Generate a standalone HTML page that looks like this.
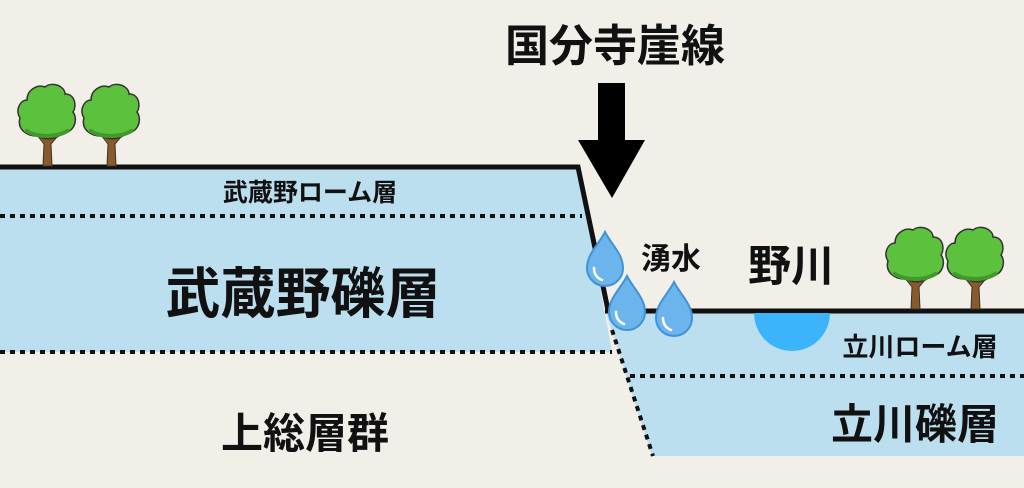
<!DOCTYPE html>
<html><head><meta charset="utf-8"><style>
body{margin:0;background:#f2efe9;}
svg text{font-family:"Liberation Sans","Noto Sans CJK JP",sans-serif;font-weight:bold;fill:#111;}
</style></head><body>
<svg width="1024" height="483" viewBox="0 0 1024 483" xmlns="http://www.w3.org/2000/svg">
<defs>
<g id="tree">
<path d="M-4,22 L-3,0 L-14,-14 L-11,-15 L-2,-5 L0,-16 L3,-16 L3,-5 L12,-15 L15,-13 L4,0 L5,22 Z" fill="#8a5a2b" stroke="#333" stroke-width="1"/>
<path d="M-10,-8 C-22,-8 -30,-16 -27,-26 C-32,-34 -27,-44 -20,-44 C-20,-54 -10,-60 -2,-57 C5,-63 18,-58 18,-50 C28,-50 30,-38 26,-32 C32,-24 26,-10 16,-12 C10,-4 0,-4 -10,-8 Z" fill="#5cc23d" stroke="#333" stroke-width="1.5"/>
<path d="M-22,-14 C-10,-6 10,-6 22,-14" fill="none" stroke="#3f9a2a" stroke-width="4"/>
</g>
<g id="drop">
<path d="M0,-30 C6,-18 18,-8 18,6 C18,16 10,24 0,24 C-10,24 -18,16 -18,6 C-18,-8 -6,-18 0,-30 Z" fill="#6bb4ec" stroke="#3f93d8" stroke-width="2"/>
<path d="M-11,6 C-11,12 -8,16 -3,18" fill="none" stroke="#fff" stroke-width="2.5" stroke-linecap="round"/>
</g>
</defs>
<polygon points="0,167 578,167 612,352 0,352" fill="#bcdff0"/>
<polygon points="605,310 1024,310 1024,456 652,456" fill="#bcdff0"/>
<line x1="0" y1="216" x2="582" y2="216" stroke="#111" stroke-width="4" stroke-dasharray="5,5"/>
<line x1="0" y1="352" x2="612" y2="352" stroke="#111" stroke-width="4" stroke-dasharray="5,5"/>
<line x1="630" y1="376" x2="1024" y2="376" stroke="#111" stroke-width="4" stroke-dasharray="5,5"/>
<line x1="612" y1="330" x2="653" y2="456" stroke="#111" stroke-width="4" stroke-dasharray="5,5"/>
<path d="M0,167 L578,167 L608,310" fill="none" stroke="#111" stroke-width="5"/>
<line x1="605" y1="311" x2="1024" y2="311" stroke="#111" stroke-width="5"/>
<path d="M754,313 A38,38 0 0 0 830,313 Z" fill="#3bb4fb"/>
<use href="#tree" x="47" y="144"/>
<use href="#tree" x="111" y="144"/>
<use href="#tree" x="915" y="287"/>
<use href="#tree" x="975" y="287"/>
<use href="#drop" x="605" y="262"/>
<use href="#drop" x="627" y="306"/>
<use href="#drop" x="674" y="312"/>
<polygon points="598,83 625,83 625,140 645,140 612,198 578,140 598,140" fill="#000"/>
<text x="615" y="61" font-size="44" text-anchor="middle">国分寺崖線</text>
<text x="310" y="201" font-size="25" text-anchor="middle">武蔵野ローム層</text>
<text x="303" y="313" font-size="55" text-anchor="middle">武蔵野礫層</text>
<text x="305" y="448" font-size="42" text-anchor="middle">上総層群</text>
<text x="671" y="269" font-size="30" text-anchor="middle">湧水</text>
<text x="791" y="281" font-size="43" text-anchor="middle">野川</text>
<text x="920" y="356" font-size="26" text-anchor="middle">立川ローム層</text>
<text x="915" y="439" font-size="42" text-anchor="middle">立川礫層</text>
</svg>
</body></html>
